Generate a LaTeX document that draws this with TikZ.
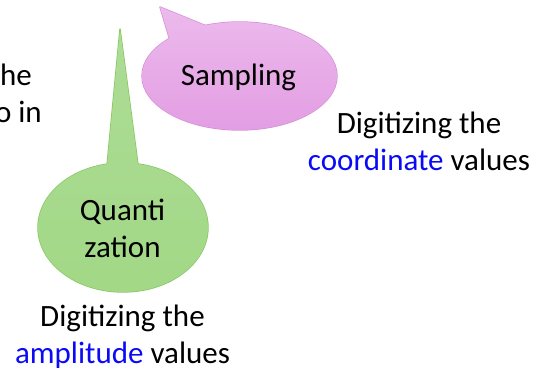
\documentclass[tikz,border=0pt]{standalone}
\usepackage{fontspec}
\setmainfont{Carlito}
\definecolor{pinkTop}{HTML}{ECBAEC}
\definecolor{pinkBot}{HTML}{E39EE3}
\definecolor{pinkLine}{HTML}{D78ED7}
\definecolor{greenTop}{HTML}{ADDC96}
\definecolor{greenBot}{HTML}{A2D886}
\definecolor{greenLine}{HTML}{86C65F}
\definecolor{linkblue}{HTML}{0A0AF5}
\tikzset{
  txt/.style={font=\fontsize{31}{37}\selectfont, inner sep=0pt, anchor=base, text=black},
  rtxt/.style={txt, anchor=base east},
  bubbleline/.style={line width=1.4pt, line join=round},
}
\begin{document}
\begin{tikzpicture}[x=1pt, y=-1pt]
\useasboundingbox (0,0) rectangle (538,372);

% Sampling speech bubble: outline first, then the shaded union on top
\draw[bubbleline, pinkLine] (239.5,76) ellipse [x radius=97.5, y radius=54];
\draw[bubbleline, pinkLine] (160,7) -- (214,29) -- (171,44) -- cycle;
\shade[top color=pinkTop, bottom color=pinkBot]
  (239.5,76) ellipse [x radius=97.5, y radius=54]
  (160,7) -- (214,29) -- (171,44) -- cycle;

% Quantization speech bubble
\draw[bubbleline, greenLine] (123,227.5) ellipse [x radius=85, y radius=64.5];
\draw[bubbleline, greenLine] (120,29) -- (106,176) -- (139.5,176) -- cycle;
\shade[top color=greenTop, bottom color=greenBot]
  (123,227.5) ellipse [x radius=85, y radius=64.5]
  (120,29) -- (139.5,176) -- (106,176) -- cycle;

% Bubble labels
\node[txt] (samp) at (238.5,85) {Sampling};
\node[txt] (quant1) at (122.5,220) {Quanti};
\node[txt] (quant2) at (122.5,257) {zation};

% Captions
\node[txt] (cap1a) at (122.5,326) {Digitizing the};
\node[txt] (cap1b) at (122.5,363) {\textcolor{linkblue}{amplitude} values};
\node[txt] (cap2a) at (419,133) {Digitizing the};
\node[txt] (cap2b) at (419,170) {\textcolor{linkblue}{coordinate} values};

% Text running in from the left edge
\node[rtxt] (left1) at (32,85) {he};
\node[rtxt] (left2) at (42,122) {o in};
\end{tikzpicture}
\end{document}
